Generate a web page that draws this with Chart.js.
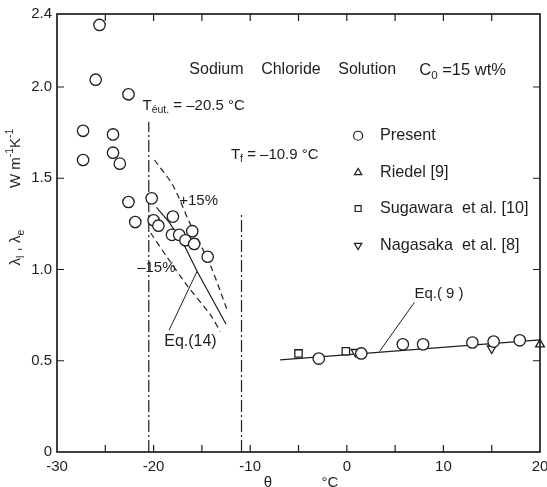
<!DOCTYPE html>
<html>
<head>
<meta charset="utf-8">
<script src="https://cdn.jsdelivr.net/npm/chart.js@4.4.1/dist/chart.umd.min.js"></script>
<style>
  html, body { margin: 0; padding: 0; background: #fff; }
  #wrap { width: 547px; height: 487px; }
</style>
</head>
<body>
<div id="wrap"><canvas id="chart" width="547" height="487"></canvas></div>
<script>
// Data (theta in degC, lambda in W m-1 K-1)
const presentX = [-27.3, -27.3, -26.0, -25.6, -24.2, -24.2, -23.5, -22.6, -22.6, -21.9,
                  -20.2, -20.0, -19.5, -18.0, -18.1, -17.35, -16.0, -16.7, -15.8, -14.4,
                  -2.9, 1.5, 5.8, 7.9, 13.0, 15.2, 17.9];
const presentY = [1.76, 1.60, 2.04, 2.34, 1.74, 1.64, 1.58, 1.96, 1.37, 1.26,
                  1.39, 1.27, 1.24, 1.29, 1.19, 1.19, 1.21, 1.16, 1.14, 1.07,
                  0.512, 0.54, 0.59, 0.59, 0.60, 0.605, 0.612];
const riedelX = [20.0];
const riedelY = [0.59];
const sugawaraX = [-5.0, -0.1];
const sugawaraY = [0.54, 0.552];
const nagasakaX = [0.9, 15.0];
const nagasakaY = [0.548, 0.567];

// Eq.(9) and Eq.(14) curves with the +-15 % band
const eq9X = [-6.9, 20.0];
const eq9Y = [0.505, 0.614];
const eq14X = [-19.7, -18.4, -16.8, -15.5, -12.5];
const eq14Y = [1.34, 1.26, 1.13, 0.99, 0.70];
const plus15X = [-19.9, -18.0, -16.3, -14.1, -12.4];
const plus15Y = [1.60, 1.46, 1.26, 1.02, 0.78];
const minus15X = [-20.3, -18.5, -16.5, -14.1, -13.1];
const minus15Y = [1.20, 1.06, 0.91, 0.75, 0.66];

// eutectic and freezing temperatures (vertical marks)
const eutecticT = -20.5, eutecticTop = 1.81;
const freezeT = -10.9, freezeTop = 1.31;

// leader lines from labels to curves
const leader14X = [-15.5, -18.4];
const leader14Y = [0.99, 0.667];
const leader9X = [3.4, 7.0];
const leader9Y = [0.552, 0.82];

// axis ticks
const xTickLabels = [-30, -20, -10, 0, 10, 20];
const xMinorTicks = [-25, -20, -15, -10, -5, 0, 5, 10, 15];
const yTickValues = [0, 0.5, 1.0, 1.5, 2.0, 2.4];

const ink = '#1e1e1e';
const FAMILY = '"Liberation Sans", Arial, sans-serif';
const font = size => size + 'px ' + FAMILY;

function pts(xs, ys) {
    return xs.map((x, i) => ({ x: x, y: ys[i] }));
}

// draw text made of [text, shift] parts, shift 1 = subscript, -1 = superscript
function drawRich(ctx, parts, x, y, size, align) {
    const widths = parts.map(([t, s]) => {
        ctx.font = font(s ? size * 0.7 : size);
        return ctx.measureText(t).width;
    });
    const total = widths.reduce((a, b) => a + b, 0);
    let cx = align === 'center' ? x - total / 2 : x;
    ctx.textAlign = 'left';
    ctx.textBaseline = 'middle';
    parts.forEach(([t, s], i) => {
        ctx.font = font(s ? size * 0.7 : size);
        const dy = s === 1 ? size * 0.32 : s === -1 ? -size * 0.38 : 0;
        ctx.fillText(t, cx, y + dy);
        cx += widths[i];
    });
}

const notes = [
    { parts: [['C', 0], ['0', 1], [' =15 wt%', 0]], x: 7.5, y: 2.088, size: 16.5 },
    { parts: [['T', 0], ['éut.', 1], [' = –20.5 °C', 0]], x: -21.15, y: 1.897, size: 15 },
    { parts: [['T', 0], ['f', 1], [' = –10.9 °C', 0]], x: -12.0, y: 1.63, size: 15 },
    { parts: [['+15%', 0]], x: -17.35, y: 1.378, size: 15 },
    { parts: [['–15%', 0]], x: -21.7, y: 1.011, size: 15 },
    { parts: [['Eq.(14)', 0]], x: -18.9, y: 0.607, size: 16 },
    { parts: [['Eq.( 9 )', 0]], x: 7.0, y: 0.869, size: 15 }
];
const titleWords = ['Sodium', 'Chloride', 'Solution'];

const legendItems = [
    { text: 'Present', style: 'circle', rot: 0, r: 4.5, y: 1.733 },
    { text: 'Riedel [9]', style: 'triangle', rot: 0, r: 4.2, y: 1.531 },
    { text: 'Sugawara  et al. [10]', style: 'rect', rot: 0, r: 4.2, y: 1.334 },
    { text: 'Nagasaka  et al. [8]', style: 'triangle', rot: 180, r: 4.2, y: 1.132 }
];

const annotations = {
    id: 'annotations',
    afterDatasetsDraw(chart) {
        const ctx = chart.ctx;
        const xs = chart.scales.x, ys = chart.scales.y;
        ctx.save();
        ctx.fillStyle = ink;

        // title, words spread like the printed figure
        ctx.font = font(16);
        const x0 = xs.getPixelForValue(-16.3), x1 = xs.getPixelForValue(5.1);
        const ws = titleWords.map(w => ctx.measureText(w).width);
        const gap = (x1 - x0 - ws.reduce((a, b) => a + b, 0)) / (titleWords.length - 1);
        let cx = x0;
        ctx.textAlign = 'left';
        ctx.textBaseline = 'middle';
        titleWords.forEach((w, i) => {
            ctx.fillText(w, cx, ys.getPixelForValue(2.094));
            cx += ws[i] + gap;
        });

        notes.forEach(n => {
            drawRich(ctx, n.parts, xs.getPixelForValue(n.x), ys.getPixelForValue(n.y), n.size, 'left');
        });

        // legend inside the plot
        legendItems.forEach(it => {
            const px = xs.getPixelForValue(1.17), py = ys.getPixelForValue(it.y);
            ctx.fillStyle = '#fff';
            ctx.strokeStyle = ink;
            ctx.lineWidth = 1.2;
            Chart.helpers.drawPoint(ctx, { pointStyle: it.style, rotation: it.rot, radius: it.r, borderWidth: 1.2 }, px, py);
            ctx.fillStyle = ink;
            ctx.font = font(16.2);
            ctx.textAlign = 'left';
            ctx.textBaseline = 'middle';
            ctx.fillText(it.text, xs.getPixelForValue(3.44), py);
        });
        ctx.restore();
    },
    afterDraw(chart) {
        const ctx = chart.ctx;
        const { left, right, top, bottom } = chart.chartArea;
        const xs = chart.scales.x, ys = chart.scales.y;
        ctx.save();
        ctx.strokeStyle = ink;
        ctx.lineWidth = 1.7;
        ctx.strokeRect(left, top, right - left, bottom - top);
        ctx.lineWidth = 1.2;
        ctx.beginPath();
        xMinorTicks.forEach(v => {
            const px = xs.getPixelForValue(v);
            ctx.moveTo(px, bottom); ctx.lineTo(px, bottom - 7);
            ctx.moveTo(px, top); ctx.lineTo(px, top + 7);
        });
        yTickValues.slice(1, -1).forEach(v => {
            const py = ys.getPixelForValue(v);
            ctx.moveTo(left, py); ctx.lineTo(left + 7, py);
            ctx.moveTo(right, py); ctx.lineTo(right - 7, py);
        });
        ctx.stroke();

        // axis titles
        ctx.fillStyle = ink;
        ctx.save();
        ctx.translate(16, 197);
        ctx.rotate(-Math.PI / 2);
        drawRich(ctx, [['λ', 0], ['l', 1], [' , λ', 0], ['e', 1], ['          W m', 0], ['-1', -1], ['K', 0], ['-1', -1]], 0, 0, 15, 'center');
        ctx.restore();
        ctx.font = font(15);
        ctx.textAlign = 'center';
        ctx.textBaseline = 'top';
        ctx.fillText('θ', 268, 475);
        ctx.fillText('°C', 330, 475);
        ctx.restore();
    }
};

const markerBase = {
    showLine: false,
    borderColor: ink,
    backgroundColor: '#fff',
    pointBorderColor: ink,
    pointBackgroundColor: '#fff',
    pointBorderWidth: 1.3,
    clip: false
};
const lineBase = {
    showLine: true,
    pointRadius: 0,
    borderColor: ink,
    borderWidth: 1.2,
    fill: false
};

new Chart(document.getElementById('chart'), {
    type: 'scatter',
    data: {
        datasets: [
            { ...markerBase, label: 'Present', data: pts(presentX, presentY), pointStyle: 'circle', pointRadius: 5.7 },
            { ...markerBase, label: 'Riedel [9]', data: pts(riedelX, riedelY), pointStyle: 'triangle', pointRadius: 5 },
            { ...markerBase, label: 'Sugawara et al. [10]', data: pts(sugawaraX, sugawaraY), pointStyle: 'rect', pointRadius: 5.2 },
            { ...markerBase, label: 'Nagasaka et al. [8]', data: pts(nagasakaX, nagasakaY), pointStyle: 'triangle', pointRotation: 180, pointRadius: 5 },
            { ...lineBase, label: 'Eq.(9)', data: pts(eq9X, eq9Y) },
            { ...lineBase, label: 'Eq.(14)', data: pts(eq14X, eq14Y) },
            { ...lineBase, label: '+15%', data: pts(plus15X, plus15Y), borderDash: [6, 4], tension: 0.3 },
            { ...lineBase, label: '-15%', data: pts(minus15X, minus15Y), borderDash: [6, 4], tension: 0.3 },
            { ...lineBase, label: 'T eut', data: pts([eutecticT, eutecticT], [0, eutecticTop]), borderDash: [12, 3, 2, 3] },
            { ...lineBase, label: 'T f', data: pts([freezeT, freezeT], [0, freezeTop]), borderDash: [12, 3, 2, 3] },
            { ...lineBase, label: 'leader 14', data: pts(leader14X, leader14Y), borderWidth: 1 },
            { ...lineBase, label: 'leader 9', data: pts(leader9X, leader9Y), borderWidth: 1 }
        ]
    },
    options: {
        responsive: false,
        animation: false,
        events: [],
        layout: { padding: { top: 13, right: 4, left: 0, bottom: 0 } },
        plugins: {
            legend: { display: false },
            tooltip: { enabled: false }
        },
        scales: {
            x: {
                type: 'linear',
                min: -30,
                max: 20,
                grid: { display: false, drawTicks: false },
                border: { display: false },
                afterBuildTicks: s => { s.ticks = xTickLabels.map(v => ({ value: v })); },
                ticks: {
                    color: ink,
                    font: { family: FAMILY, size: 15 },
                    padding: 6,
                    maxRotation: 0,
                    autoSkip: false,
                    callback: v => String(v)
                },
                afterFit: s => { s.height = 35; s.paddingLeft = 0; s.paddingRight = 0; }
            },
            y: {
                type: 'linear',
                min: 0,
                max: 2.4,
                grid: { display: false, drawTicks: false },
                border: { display: false },
                afterBuildTicks: s => { s.ticks = yTickValues.map(v => ({ value: v })); },
                ticks: {
                    color: ink,
                    font: { family: FAMILY, size: 15 },
                    padding: 5,
                    autoSkip: false,
                    callback: v => v === 0 ? '0' : v.toFixed(1)
                },
                afterFit: s => { s.width = 57; }
            }
        }
    },
    plugins: [annotations]
});
</script>
</body>
</html>
